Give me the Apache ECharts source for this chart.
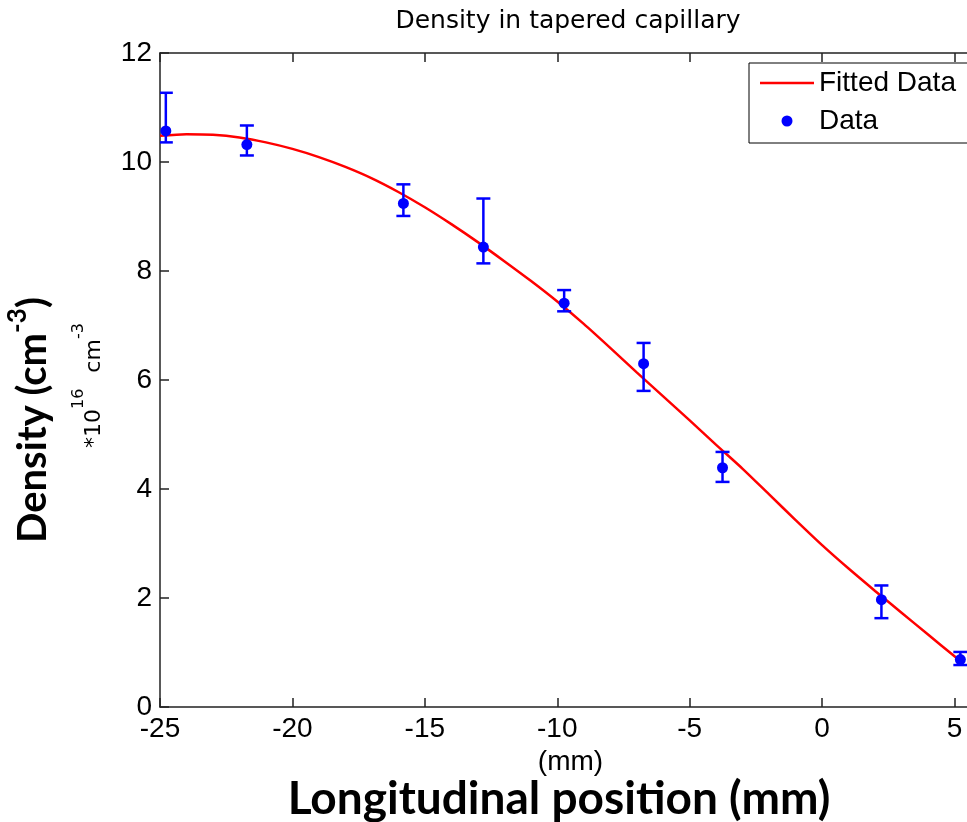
<!DOCTYPE html>
<html>
<head>
<meta charset="utf-8">
<script src="https://cdn.jsdelivr.net/npm/echarts@6/dist/echarts.min.js"></script>
<style>
  html, body { margin: 0; padding: 0; background: #fff; }
  #chart1 { width: 967px; height: 822px; }
</style>
</head>
<body>
<div id="chart1"></div>
<script>
var dom = document.getElementById("chart1");
var myChart = echarts.init(dom);

// fitted curve
var fitX = [-25, -24, -23, -22, -21, -20, -19, -18, -17, -16, -15, -14, -13, -12, -11, -10,
            -9, -8, -7, -6, -5, -4, -3, -2, -1, 0, 1, 2, 3, 4, 5, 5.22];
var fitY = [10.48, 10.51, 10.50, 10.45, 10.36, 10.24, 10.09, 9.91, 9.70, 9.45, 9.17, 8.86, 8.53, 8.18, 7.82, 7.44,
            7.03, 6.59, 6.14, 5.70, 5.26, 4.81, 4.37, 3.90, 3.43, 2.97, 2.54, 2.13, 1.73, 1.33, 0.93, 0.84];

// measured points with error bars
var ptX = [-24.78, -21.72, -15.81, -12.79, -9.74, -6.74, -3.76, 2.24, 5.22];
var ptY = [10.57, 10.32, 9.24, 8.44, 7.41, 6.30, 4.39, 1.97, 0.87];
var errLow = [10.36, 10.12, 9.01, 8.14, 7.26, 5.80, 4.13, 1.63, 0.77];
var errHigh = [11.27, 10.67, 9.59, 9.33, 7.65, 6.68, 4.68, 2.23, 1.01];

var xRange = [-25, 6], xStep = 5;
var yRange = [0, 12], yStep = 2;

var fitData = fitX.map(function (x, i) { return [x, fitY[i]]; });
var ptData = ptX.map(function (x, i) { return [x, ptY[i]]; });
var errData = ptX.map(function (x, i) { return [x, errLow[i], errHigh[i]]; });

var axisColor = '#222';
var tickFont = { fontSize: 28, color: '#000', fontFamily: 'Liberation Sans' };

option = {
    animation: false,
    backgroundColor: '#fff',
    grid: { left: 160, right: -14, top: 53, bottom: 115, outerBoundsMode: 'none' },
    legend: {
        orient: 'vertical',
        left: 749, top: 63,
        padding: [5, 24, 7, 11],
        borderColor: '#000', borderWidth: 1,
        itemWidth: 54, itemHeight: 11, itemGap: 8,
        selectedMode: false,
        textStyle: { fontSize: 28, lineHeight: 30, color: '#000', fontFamily: 'Liberation Sans' },
        data: [
            { name: 'Fitted Data', icon: 'path://M0,0L54,0L54,2.5L0,2.5Z' },
            { name: 'Data', icon: 'circle' }
        ]
    },
    xAxis: [{
        type: 'value', min: xRange[0], max: xRange[1], interval: xStep,
        splitLine: { show: false },
        axisLine: { onZero: false, lineStyle: { color: axisColor, width: 1.5 } },
        axisTick: { inside: true, length: 9, lineStyle: { color: axisColor, width: 1.5 } },
        axisLabel: Object.assign({ margin: 8, showMaxLabel: false }, tickFont),
        name: '(mm)', nameLocation: 'middle', nameGap: 38,
        nameTextStyle: tickFont
    }, {
        type: 'value', position: 'top', min: xRange[0], max: xRange[1], interval: xStep,
        splitLine: { show: false },
        axisLine: { onZero: false, lineStyle: { color: axisColor, width: 1.5 } },
        axisTick: { inside: true, length: 9, lineStyle: { color: axisColor, width: 1.5 } },
        axisLabel: { show: false }
    }],
    yAxis: {
        type: 'value', min: yRange[0], max: yRange[1], interval: yStep,
        splitLine: { show: false },
        axisLine: { onZero: false, lineStyle: { color: axisColor, width: 1.5 } },
        axisTick: { inside: true, length: 9, lineStyle: { color: axisColor, width: 1.5 } },
        axisLabel: Object.assign({ margin: 8 }, tickFont)
    },
    graphic: [{
        type: 'text', x: 568, y: 21,
        style: { text: 'Density in tapered capillary', fill: '#000', font: '25px "DejaVu Sans"',
                 align: 'center', verticalAlign: 'middle', textAlign: 'center', textVerticalAlign: 'middle' }
    }, {
        type: 'text', x: 559, y: 799,
        style: { text: 'Longitudinal position (mm)', fill: '#000', font: 'bold 46px Lato',
                 align: 'center', verticalAlign: 'middle', textAlign: 'center', textVerticalAlign: 'middle' }
    }, {
        type: 'text', x: 29, y: 543, rotation: Math.PI / 2,
        style: {
            text: '{b|Density (cm}{s|-3}{b|)}', fill: '#000',
            align: 'left', verticalAlign: 'middle', textAlign: 'left', textVerticalAlign: 'middle',
            rich: {
                b: { fontSize: 40, fontWeight: 'bold', fontFamily: 'Lato', lineHeight: 48, verticalAlign: 'bottom' },
                s: { fontSize: 26, fontWeight: 'bold', fontFamily: 'Lato', lineHeight: 26, verticalAlign: 'top' }
            }
        }
    }, {
        type: 'text', x: 88, y: 448, rotation: Math.PI / 2,
        style: {
            text: '{b|*10}{s|16}{c|cm}{s|-3}', fill: '#000',
            align: 'left', verticalAlign: 'middle', textAlign: 'left', textVerticalAlign: 'middle',
            rich: {
                b: { fontSize: 22, fontFamily: 'DejaVu Sans', lineHeight: 35, verticalAlign: 'bottom' },
                c: { fontSize: 22, fontFamily: 'DejaVu Sans', lineHeight: 35, verticalAlign: 'bottom', padding: [0, 0, 0, 16] },
                s: { fontSize: 16, fontFamily: 'DejaVu Sans', lineHeight: 16, verticalAlign: 'top' }
            }
        }
    }],
    series: [{
        name: 'Fitted Data',
        type: 'line',
        data: fitData,
        symbol: 'none',
        smooth: 0.25,
        clip: true,
        z: 2,
        itemStyle: { color: '#ff0000' },
        lineStyle: { color: '#ff0000', width: 2.5 }
    }, {
        name: 'errorbars',
        type: 'custom',
        data: errData,
        clip: true,
        z: 3,
        encode: { x: 0, y: [1, 2] },
        renderItem: function (params, api) {
            var x = api.value(0);
            var lo = api.coord([x, api.value(1)]);
            var hi = api.coord([x, api.value(2)]);
            var w = 7;
            var st = { stroke: '#0000ff', lineWidth: 2.5 };
            return {
                type: 'group',
                children: [
                    { type: 'line', shape: { x1: lo[0], y1: lo[1], x2: hi[0], y2: hi[1] }, style: st },
                    { type: 'line', shape: { x1: lo[0] - w, y1: lo[1], x2: lo[0] + w, y2: lo[1] }, style: st },
                    { type: 'line', shape: { x1: hi[0] - w, y1: hi[1], x2: hi[0] + w, y2: hi[1] }, style: st }
                ]
            };
        }
    }, {
        name: 'Data',
        type: 'scatter',
        data: ptData,
        symbol: 'circle',
        symbolSize: 11,
        z: 4,
        itemStyle: { color: '#0000ff', opacity: 1 }
    }]
};

if (option && typeof option === "object") {
    myChart.setOption(option, true);
}
</script>
</body>
</html>
